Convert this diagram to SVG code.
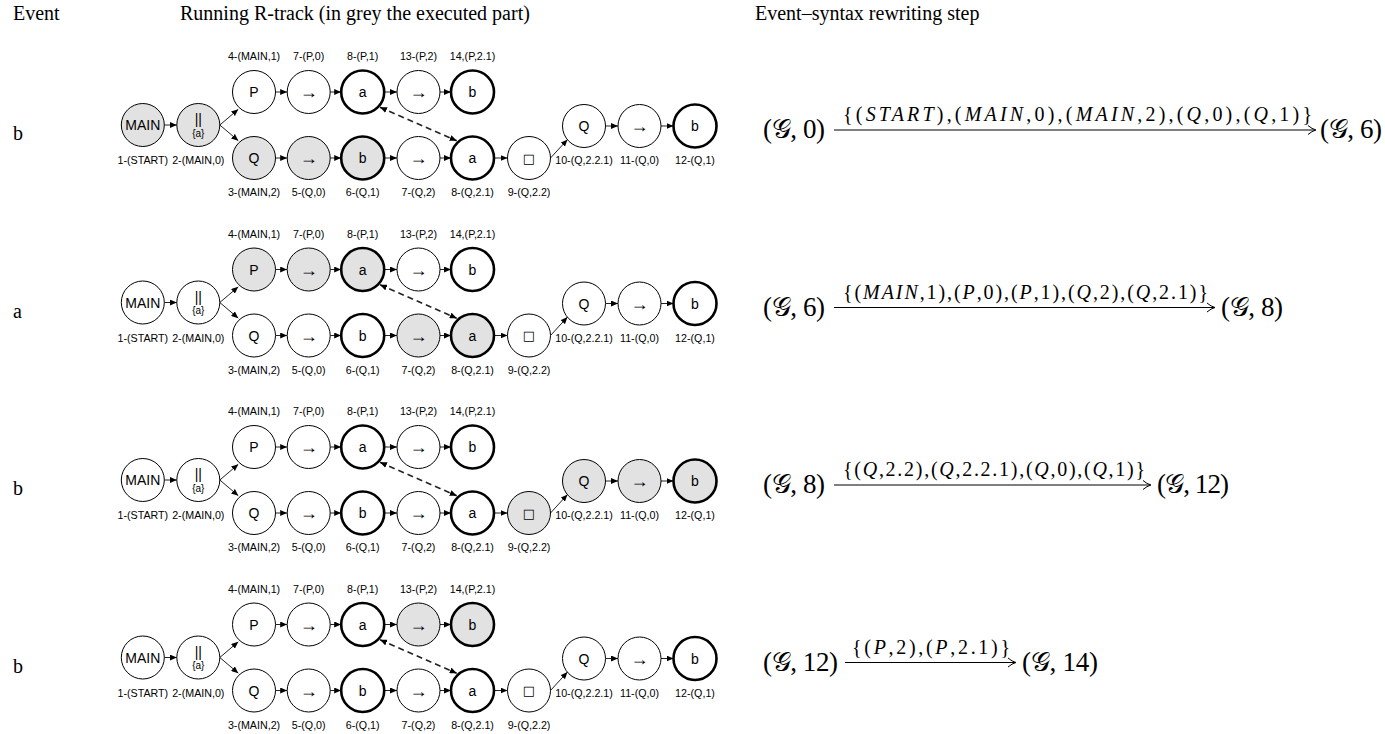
<svg xmlns="http://www.w3.org/2000/svg" width="1385" height="734" viewBox="0 0 1385 734">
<style>
.bg{fill:#ffffff}
.hd{font-family:"Liberation Serif","Times New Roman",serif;font-size:20px;fill:#000}
circle{fill:#ffffff;stroke:#000;stroke-width:1}
circle.g{fill:#e2e2e2}
circle.t{stroke-width:2.6}
.in{font-family:"Liberation Sans",Arial,sans-serif;font-size:14px;text-anchor:middle;dominant-baseline:central;fill:#000}
.arw{font-family:"Liberation Sans",Arial,sans-serif;font-size:18px;text-anchor:middle;dominant-baseline:central;fill:#000}
.sm{font-family:"Liberation Sans",Arial,sans-serif;font-size:10px;text-anchor:middle;dominant-baseline:central;fill:#000}
.bx{font-family:"DejaVu Sans",sans-serif;font-size:13px;text-anchor:middle;dominant-baseline:central;fill:#000}
.lbl{font-family:"Liberation Sans",Arial,sans-serif;font-size:10.7px;text-anchor:middle;fill:#000}
.c{stroke:#222;stroke-width:1;fill:none;marker-end:url(#ah)}
.d{stroke:#222;stroke-width:1.6;fill:none;stroke-dasharray:6 4;marker-end:url(#ah);marker-start:url(#ah)}
.f{font-family:"Liberation Serif","DejaVu Serif",serif;font-size:27px;fill:#000}
.fl{font-family:"Liberation Serif","DejaVu Serif",serif;font-size:20px;fill:#000}
.it{font-style:italic}
.ar{stroke:#000;stroke-width:1;fill:none}
</style>
<defs>
<marker id="ah" markerUnits="userSpaceOnUse" markerWidth="7" markerHeight="6" refX="7" refY="3" orient="auto-start-reverse"><path d="M0,0 L7,3 L0,6 z" fill="#000"/></marker>
</defs>
<rect class="bg" x="0" y="0" width="1385" height="734"/>
<g id="header">
<text class="hd" x="13" y="20">Event</text>
<text class="hd" x="180" y="20">Running R-track (in grey the executed part)</text>
<text class="hd" x="755" y="20">Event–syntax rewriting step</text>
</g>

<!-- ROW 1 -->
<g id="row1" transform="translate(0,0)">
<text class="hd" x="13" y="140">b</text>
<g id="r1-connectors">
<line class="c" x1="164.3" y1="125" x2="176.8" y2="125"/>
<line class="c" x1="219.8" y1="125" x2="238.3" y2="109.3"/>
<line class="c" x1="219.8" y1="125" x2="238.3" y2="140.7"/>
<line class="c" x1="275.5" y1="92" x2="287.2" y2="92"/>
<line class="c" x1="330.2" y1="92" x2="341.2" y2="92"/>
<line class="c" x1="384.2" y1="92" x2="397" y2="92"/>
<line class="c" x1="440" y1="92" x2="451" y2="92"/>
<line class="c" x1="275.5" y1="158" x2="287.2" y2="158"/>
<line class="c" x1="330.2" y1="158" x2="341.2" y2="158"/>
<line class="c" x1="384.2" y1="158" x2="397" y2="158"/>
<line class="c" x1="440" y1="158" x2="451" y2="158"/>
<line class="c" x1="494" y1="158" x2="507.5" y2="158"/>
<line class="c" x1="550.5" y1="158" x2="567.5" y2="139.5"/>
<line class="c" x1="605.5" y1="126" x2="618" y2="126"/>
<line class="c" x1="661" y1="126" x2="673.5" y2="126"/>
<line class="d" x1="380" y1="107.3" x2="456.7" y2="140.7"/>
</g>
<g id="r1-main" transform="translate(142.8,125)"><circle class="g" r="21.5"/><text class="in">MAIN</text><text class="lbl" y="39">1-(START)</text></g>
<g id="r1-par" transform="translate(198.3,125)"><circle class="g" r="21.5"/><text class="in" y="-6">||</text><text class="sm" y="8">{a}</text><text class="lbl" y="39">2-(MAIN,0)</text></g>
<g id="r1-P" transform="translate(254,92)"><circle r="21.5"/><text class="in">P</text><text class="lbl" y="-32">4-(MAIN,1)</text></g>
<g id="r1-P0" transform="translate(308.7,92)"><circle r="21.5"/><text class="arw">→</text><text class="lbl" y="-32">7-(P,0)</text></g>
<g id="r1-P1" transform="translate(362.7,92)"><circle class="t" r="21.5"/><text class="in">a</text><text class="lbl" y="-32">8-(P,1)</text></g>
<g id="r1-P2" transform="translate(418.5,92)"><circle r="21.5"/><text class="arw">→</text><text class="lbl" y="-32">13-(P,2)</text></g>
<g id="r1-P21" transform="translate(472.5,92)"><circle class="t" r="21.5"/><text class="in">b</text><text class="lbl" y="-32">14,(P,2.1)</text></g>
<g id="r1-Q" transform="translate(254,158)"><circle class="g" r="21.5"/><text class="in">Q</text><text class="lbl" y="38">3-(MAIN,2)</text></g>
<g id="r1-Q0" transform="translate(308.7,158)"><circle class="g" r="21.5"/><text class="arw">→</text><text class="lbl" y="38">5-(Q,0)</text></g>
<g id="r1-Q1" transform="translate(362.7,158)"><circle class="g t" r="21.5"/><text class="in">b</text><text class="lbl" y="38">6-(Q,1)</text></g>
<g id="r1-Q2" transform="translate(418.5,158)"><circle r="21.5"/><text class="arw">→</text><text class="lbl" y="38">7-(Q,2)</text></g>
<g id="r1-Q21" transform="translate(472.5,158)"><circle class="t" r="21.5"/><text class="in">a</text><text class="lbl" y="38">8-(Q,2.1)</text></g>
<g id="r1-Q22" transform="translate(529,158)"><circle r="21.5"/><text class="bx">□</text><text class="lbl" y="38">9-(Q,2.2)</text></g>
<g id="r1-Q221" transform="translate(584,126)"><circle r="21.5"/><text class="in">Q</text><text class="lbl" y="38">10-(Q,2.2.1)</text></g>
<g id="r1-Qb0" transform="translate(639.5,126)"><circle r="21.5"/><text class="arw">→</text><text class="lbl" y="38">11-(Q,0)</text></g>
<g id="r1-Qb1" transform="translate(695,126)"><circle class="t" r="21.5"/><text class="in">b</text><text class="lbl" y="38">12-(Q,1)</text></g>
<g id="r1-formula">
<text class="f" x="763" y="138" textLength="62" lengthAdjust="spacing">(𝒢, 0)</text>
<text class="fl" x="843" y="121" textLength="469" lengthAdjust="spacing">{(<tspan class="it">START</tspan>),(<tspan class="it">MAIN</tspan>,0),(<tspan class="it">MAIN</tspan>,2),(<tspan class="it">Q</tspan>,0),(<tspan class="it">Q</tspan>,1)}</text>
<line class="ar" x1="834" y1="130" x2="1315" y2="130"/>
<path class="ar" d="M1308,125.5 Q1312,129 1316,130 Q1312,131 1308,134.5"/>
<text class="f" x="1320" y="138" textLength="62" lengthAdjust="spacing">(𝒢, 6)</text>
</g>
</g>

<!-- ROW 2 -->
<g id="row2" transform="translate(0,177.5)">
<text class="hd" x="13" y="140">a</text>
<g id="r2-connectors">
<line class="c" x1="164.3" y1="125" x2="176.8" y2="125"/>
<line class="c" x1="219.8" y1="125" x2="238.3" y2="109.3"/>
<line class="c" x1="219.8" y1="125" x2="238.3" y2="140.7"/>
<line class="c" x1="275.5" y1="92" x2="287.2" y2="92"/>
<line class="c" x1="330.2" y1="92" x2="341.2" y2="92"/>
<line class="c" x1="384.2" y1="92" x2="397" y2="92"/>
<line class="c" x1="440" y1="92" x2="451" y2="92"/>
<line class="c" x1="275.5" y1="158" x2="287.2" y2="158"/>
<line class="c" x1="330.2" y1="158" x2="341.2" y2="158"/>
<line class="c" x1="384.2" y1="158" x2="397" y2="158"/>
<line class="c" x1="440" y1="158" x2="451" y2="158"/>
<line class="c" x1="494" y1="158" x2="507.5" y2="158"/>
<line class="c" x1="550.5" y1="158" x2="567.5" y2="139.5"/>
<line class="c" x1="605.5" y1="126" x2="618" y2="126"/>
<line class="c" x1="661" y1="126" x2="673.5" y2="126"/>
<line class="d" x1="380" y1="107.3" x2="456.7" y2="140.7"/>
</g>
<g id="r2-main" transform="translate(142.8,125)"><circle r="21.5"/><text class="in">MAIN</text><text class="lbl" y="39">1-(START)</text></g>
<g id="r2-par" transform="translate(198.3,125)"><circle r="21.5"/><text class="in" y="-6">||</text><text class="sm" y="8">{a}</text><text class="lbl" y="39">2-(MAIN,0)</text></g>
<g id="r2-P" transform="translate(254,92)"><circle class="g" r="21.5"/><text class="in">P</text><text class="lbl" y="-32">4-(MAIN,1)</text></g>
<g id="r2-P0" transform="translate(308.7,92)"><circle class="g" r="21.5"/><text class="arw">→</text><text class="lbl" y="-32">7-(P,0)</text></g>
<g id="r2-P1" transform="translate(362.7,92)"><circle class="g t" r="21.5"/><text class="in">a</text><text class="lbl" y="-32">8-(P,1)</text></g>
<g id="r2-P2" transform="translate(418.5,92)"><circle r="21.5"/><text class="arw">→</text><text class="lbl" y="-32">13-(P,2)</text></g>
<g id="r2-P21" transform="translate(472.5,92)"><circle class="t" r="21.5"/><text class="in">b</text><text class="lbl" y="-32">14,(P,2.1)</text></g>
<g id="r2-Q" transform="translate(254,158)"><circle r="21.5"/><text class="in">Q</text><text class="lbl" y="38">3-(MAIN,2)</text></g>
<g id="r2-Q0" transform="translate(308.7,158)"><circle r="21.5"/><text class="arw">→</text><text class="lbl" y="38">5-(Q,0)</text></g>
<g id="r2-Q1" transform="translate(362.7,158)"><circle class="t" r="21.5"/><text class="in">b</text><text class="lbl" y="38">6-(Q,1)</text></g>
<g id="r2-Q2" transform="translate(418.5,158)"><circle class="g" r="21.5"/><text class="arw">→</text><text class="lbl" y="38">7-(Q,2)</text></g>
<g id="r2-Q21" transform="translate(472.5,158)"><circle class="g t" r="21.5"/><text class="in">a</text><text class="lbl" y="38">8-(Q,2.1)</text></g>
<g id="r2-Q22" transform="translate(529,158)"><circle r="21.5"/><text class="bx">□</text><text class="lbl" y="38">9-(Q,2.2)</text></g>
<g id="r2-Q221" transform="translate(584,126)"><circle r="21.5"/><text class="in">Q</text><text class="lbl" y="38">10-(Q,2.2.1)</text></g>
<g id="r2-Qb0" transform="translate(639.5,126)"><circle r="21.5"/><text class="arw">→</text><text class="lbl" y="38">11-(Q,0)</text></g>
<g id="r2-Qb1" transform="translate(695,126)"><circle class="t" r="21.5"/><text class="in">b</text><text class="lbl" y="38">12-(Q,1)</text></g>
<g id="r2-formula">
<text class="f" x="763" y="138" textLength="62" lengthAdjust="spacing">(𝒢, 6)</text>
<text class="fl" x="843" y="121" textLength="365" lengthAdjust="spacing">{(<tspan class="it">MAIN</tspan>,1),(<tspan class="it">P</tspan>,0),(<tspan class="it">P</tspan>,1),(<tspan class="it">Q</tspan>,2),(<tspan class="it">Q</tspan>,2.1)}</text>
<line class="ar" x1="834" y1="130" x2="1214" y2="130"/>
<path class="ar" d="M1207,125.5 Q1211,129 1215,130 Q1211,131 1207,134.5"/>
<text class="f" x="1221" y="138" textLength="62" lengthAdjust="spacing">(𝒢, 8)</text>
</g>
</g>

<!-- ROW 3 -->
<g id="row3" transform="translate(0,355)">
<text class="hd" x="13" y="140">b</text>
<g id="r3-connectors">
<line class="c" x1="164.3" y1="125" x2="176.8" y2="125"/>
<line class="c" x1="219.8" y1="125" x2="238.3" y2="109.3"/>
<line class="c" x1="219.8" y1="125" x2="238.3" y2="140.7"/>
<line class="c" x1="275.5" y1="92" x2="287.2" y2="92"/>
<line class="c" x1="330.2" y1="92" x2="341.2" y2="92"/>
<line class="c" x1="384.2" y1="92" x2="397" y2="92"/>
<line class="c" x1="440" y1="92" x2="451" y2="92"/>
<line class="c" x1="275.5" y1="158" x2="287.2" y2="158"/>
<line class="c" x1="330.2" y1="158" x2="341.2" y2="158"/>
<line class="c" x1="384.2" y1="158" x2="397" y2="158"/>
<line class="c" x1="440" y1="158" x2="451" y2="158"/>
<line class="c" x1="494" y1="158" x2="507.5" y2="158"/>
<line class="c" x1="550.5" y1="158" x2="567.5" y2="139.5"/>
<line class="c" x1="605.5" y1="126" x2="618" y2="126"/>
<line class="c" x1="661" y1="126" x2="673.5" y2="126"/>
<line class="d" x1="380" y1="107.3" x2="456.7" y2="140.7"/>
</g>
<g id="r3-main" transform="translate(142.8,125)"><circle r="21.5"/><text class="in">MAIN</text><text class="lbl" y="39">1-(START)</text></g>
<g id="r3-par" transform="translate(198.3,125)"><circle r="21.5"/><text class="in" y="-6">||</text><text class="sm" y="8">{a}</text><text class="lbl" y="39">2-(MAIN,0)</text></g>
<g id="r3-P" transform="translate(254,92)"><circle r="21.5"/><text class="in">P</text><text class="lbl" y="-32">4-(MAIN,1)</text></g>
<g id="r3-P0" transform="translate(308.7,92)"><circle r="21.5"/><text class="arw">→</text><text class="lbl" y="-32">7-(P,0)</text></g>
<g id="r3-P1" transform="translate(362.7,92)"><circle class="t" r="21.5"/><text class="in">a</text><text class="lbl" y="-32">8-(P,1)</text></g>
<g id="r3-P2" transform="translate(418.5,92)"><circle r="21.5"/><text class="arw">→</text><text class="lbl" y="-32">13-(P,2)</text></g>
<g id="r3-P21" transform="translate(472.5,92)"><circle class="t" r="21.5"/><text class="in">b</text><text class="lbl" y="-32">14,(P,2.1)</text></g>
<g id="r3-Q" transform="translate(254,158)"><circle r="21.5"/><text class="in">Q</text><text class="lbl" y="38">3-(MAIN,2)</text></g>
<g id="r3-Q0" transform="translate(308.7,158)"><circle r="21.5"/><text class="arw">→</text><text class="lbl" y="38">5-(Q,0)</text></g>
<g id="r3-Q1" transform="translate(362.7,158)"><circle class="t" r="21.5"/><text class="in">b</text><text class="lbl" y="38">6-(Q,1)</text></g>
<g id="r3-Q2" transform="translate(418.5,158)"><circle r="21.5"/><text class="arw">→</text><text class="lbl" y="38">7-(Q,2)</text></g>
<g id="r3-Q21" transform="translate(472.5,158)"><circle class="t" r="21.5"/><text class="in">a</text><text class="lbl" y="38">8-(Q,2.1)</text></g>
<g id="r3-Q22" transform="translate(529,158)"><circle class="g" r="21.5"/><text class="bx">□</text><text class="lbl" y="38">9-(Q,2.2)</text></g>
<g id="r3-Q221" transform="translate(584,126)"><circle class="g" r="21.5"/><text class="in">Q</text><text class="lbl" y="38">10-(Q,2.2.1)</text></g>
<g id="r3-Qb0" transform="translate(639.5,126)"><circle class="g" r="21.5"/><text class="arw">→</text><text class="lbl" y="38">11-(Q,0)</text></g>
<g id="r3-Qb1" transform="translate(695,126)"><circle class="g t" r="21.5"/><text class="in">b</text><text class="lbl" y="38">12-(Q,1)</text></g>
<g id="r3-formula">
<text class="f" x="763" y="138" textLength="62" lengthAdjust="spacing">(𝒢, 8)</text>
<text class="fl" x="843" y="121" textLength="302" lengthAdjust="spacing">{(<tspan class="it">Q</tspan>,2.2),(<tspan class="it">Q</tspan>,2.2.1),(<tspan class="it">Q</tspan>,0),(<tspan class="it">Q</tspan>,1)}</text>
<line class="ar" x1="834" y1="130" x2="1150" y2="130"/>
<path class="ar" d="M1143,125.5 Q1147,129 1151,130 Q1147,131 1143,134.5"/>
<text class="f" x="1157" y="138" textLength="72" lengthAdjust="spacing">(𝒢, 12)</text>
</g>
</g>

<!-- ROW 4 -->
<g id="row4" transform="translate(0,532.5)">
<text class="hd" x="13" y="140">b</text>
<g id="r4-connectors">
<line class="c" x1="164.3" y1="125" x2="176.8" y2="125"/>
<line class="c" x1="219.8" y1="125" x2="238.3" y2="109.3"/>
<line class="c" x1="219.8" y1="125" x2="238.3" y2="140.7"/>
<line class="c" x1="275.5" y1="92" x2="287.2" y2="92"/>
<line class="c" x1="330.2" y1="92" x2="341.2" y2="92"/>
<line class="c" x1="384.2" y1="92" x2="397" y2="92"/>
<line class="c" x1="440" y1="92" x2="451" y2="92"/>
<line class="c" x1="275.5" y1="158" x2="287.2" y2="158"/>
<line class="c" x1="330.2" y1="158" x2="341.2" y2="158"/>
<line class="c" x1="384.2" y1="158" x2="397" y2="158"/>
<line class="c" x1="440" y1="158" x2="451" y2="158"/>
<line class="c" x1="494" y1="158" x2="507.5" y2="158"/>
<line class="c" x1="550.5" y1="158" x2="567.5" y2="139.5"/>
<line class="c" x1="605.5" y1="126" x2="618" y2="126"/>
<line class="c" x1="661" y1="126" x2="673.5" y2="126"/>
<line class="d" x1="380" y1="107.3" x2="456.7" y2="140.7"/>
</g>
<g id="r4-main" transform="translate(142.8,125)"><circle r="21.5"/><text class="in">MAIN</text><text class="lbl" y="39">1-(START)</text></g>
<g id="r4-par" transform="translate(198.3,125)"><circle r="21.5"/><text class="in" y="-6">||</text><text class="sm" y="8">{a}</text><text class="lbl" y="39">2-(MAIN,0)</text></g>
<g id="r4-P" transform="translate(254,92)"><circle r="21.5"/><text class="in">P</text><text class="lbl" y="-32">4-(MAIN,1)</text></g>
<g id="r4-P0" transform="translate(308.7,92)"><circle r="21.5"/><text class="arw">→</text><text class="lbl" y="-32">7-(P,0)</text></g>
<g id="r4-P1" transform="translate(362.7,92)"><circle class="t" r="21.5"/><text class="in">a</text><text class="lbl" y="-32">8-(P,1)</text></g>
<g id="r4-P2" transform="translate(418.5,92)"><circle class="g" r="21.5"/><text class="arw">→</text><text class="lbl" y="-32">13-(P,2)</text></g>
<g id="r4-P21" transform="translate(472.5,92)"><circle class="g t" r="21.5"/><text class="in">b</text><text class="lbl" y="-32">14,(P,2.1)</text></g>
<g id="r4-Q" transform="translate(254,158)"><circle r="21.5"/><text class="in">Q</text><text class="lbl" y="38">3-(MAIN,2)</text></g>
<g id="r4-Q0" transform="translate(308.7,158)"><circle r="21.5"/><text class="arw">→</text><text class="lbl" y="38">5-(Q,0)</text></g>
<g id="r4-Q1" transform="translate(362.7,158)"><circle class="t" r="21.5"/><text class="in">b</text><text class="lbl" y="38">6-(Q,1)</text></g>
<g id="r4-Q2" transform="translate(418.5,158)"><circle r="21.5"/><text class="arw">→</text><text class="lbl" y="38">7-(Q,2)</text></g>
<g id="r4-Q21" transform="translate(472.5,158)"><circle class="t" r="21.5"/><text class="in">a</text><text class="lbl" y="38">8-(Q,2.1)</text></g>
<g id="r4-Q22" transform="translate(529,158)"><circle r="21.5"/><text class="bx">□</text><text class="lbl" y="38">9-(Q,2.2)</text></g>
<g id="r4-Q221" transform="translate(584,126)"><circle r="21.5"/><text class="in">Q</text><text class="lbl" y="38">10-(Q,2.2.1)</text></g>
<g id="r4-Qb0" transform="translate(639.5,126)"><circle r="21.5"/><text class="arw">→</text><text class="lbl" y="38">11-(Q,0)</text></g>
<g id="r4-Qb1" transform="translate(695,126)"><circle class="t" r="21.5"/><text class="in">b</text><text class="lbl" y="38">12-(Q,1)</text></g>
<g id="r4-formula">
<text class="f" x="763" y="138" textLength="75" lengthAdjust="spacing">(𝒢, 12)</text>
<text class="fl" x="852" y="121" textLength="158" lengthAdjust="spacing">{(<tspan class="it">P</tspan>,2),(<tspan class="it">P</tspan>,2.1)}</text>
<line class="ar" x1="845" y1="130" x2="1015" y2="130"/>
<path class="ar" d="M1008,125.5 Q1012,129 1016,130 Q1012,131 1008,134.5"/>
<text class="f" x="1022" y="138" textLength="76" lengthAdjust="spacing">(𝒢, 14)</text>
</g>
</g>
</svg>
